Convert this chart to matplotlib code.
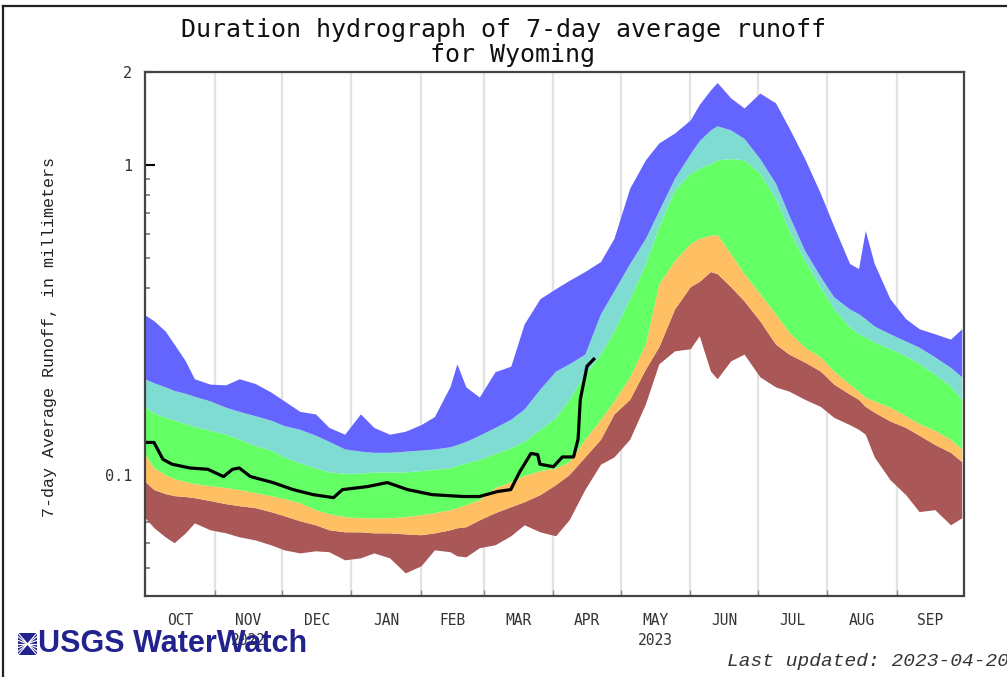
import numpy as np
import matplotlib
matplotlib.use("Agg")
import matplotlib.pyplot as plt
from matplotlib.lines import Line2D
from matplotlib.ticker import NullFormatter

# ---- data (days since 2022-10-01, 7-day average runoff in mm) ----
band_day = [0, 4, 9, 13, 18, 22, 29, 36, 42, 49, 56, 62, 69, 76, 82, 89, 96, 102, 109, 116,
            123, 129, 136, 139, 143, 149, 156, 163, 169, 176, 183, 189, 196, 203, 209, 216,
            223, 229, 236, 243, 247, 252, 255, 261, 267, 274, 281, 287, 294, 301, 307, 314,
            318, 321, 325, 332, 339, 345, 352, 359, 364]

q_max = [0.328, 0.314, 0.291, 0.264, 0.233, 0.204, 0.196, 0.195, 0.204, 0.197, 0.185, 0.173,
         0.160, 0.157, 0.142, 0.135, 0.157, 0.142, 0.135, 0.138, 0.145, 0.154, 0.193, 0.228,
         0.192, 0.178, 0.215, 0.224, 0.307, 0.370, 0.399, 0.424, 0.453, 0.488, 0.580, 0.842,
         1.04, 1.18, 1.27, 1.40, 1.57, 1.75, 1.85, 1.65, 1.53, 1.71, 1.59, 1.32, 1.05, 0.811,
         0.634, 0.481, 0.463, 0.615, 0.481, 0.370, 0.319, 0.296, 0.285, 0.274, 0.296]

q_p90 = [0.204, 0.198, 0.192, 0.187, 0.183, 0.179, 0.173, 0.165, 0.160, 0.155, 0.150, 0.144,
         0.140, 0.134, 0.128, 0.121, 0.119, 0.118, 0.118, 0.119, 0.120, 0.121, 0.123, 0.125,
         0.128, 0.134, 0.142, 0.151, 0.163, 0.189, 0.216, 0.228, 0.245, 0.331, 0.393, 0.481,
         0.580, 0.714, 0.908, 1.09, 1.20, 1.30, 1.34, 1.30, 1.22, 1.05, 0.874, 0.688, 0.530,
         0.436, 0.375, 0.343, 0.331, 0.319, 0.302, 0.285, 0.270, 0.258, 0.240, 0.222, 0.207]

q_p75 = [0.166, 0.158, 0.153, 0.150, 0.146, 0.143, 0.139, 0.135, 0.130, 0.124, 0.120, 0.114,
         0.109, 0.105, 0.102, 0.101, 0.101, 0.102, 0.102, 0.102, 0.103, 0.104, 0.105, 0.107,
         0.109, 0.112, 0.117, 0.122, 0.128, 0.140, 0.153, 0.175, 0.211, 0.245, 0.291, 0.370,
         0.481, 0.634, 0.830, 0.942, 0.978, 1.01, 1.04, 1.05, 1.04, 0.942, 0.782, 0.615, 0.492,
         0.404, 0.343, 0.300, 0.285, 0.278, 0.268, 0.255, 0.242, 0.228, 0.211, 0.193, 0.175]

q_p25 = [0.116, 0.105, 0.100, 0.097, 0.095, 0.0935, 0.0921, 0.0908, 0.0894, 0.0874, 0.0855,
         0.0836, 0.0811, 0.0770, 0.0747, 0.0731, 0.0725, 0.0725, 0.0725, 0.0731, 0.0742, 0.0753,
         0.0770, 0.0782, 0.0799, 0.0830, 0.0908, 0.0949, 0.0993, 0.103, 0.105, 0.110, 0.130,
         0.151, 0.173, 0.207, 0.264, 0.414, 0.492, 0.558, 0.580, 0.593, 0.597, 0.518, 0.446,
         0.384, 0.331, 0.289, 0.258, 0.240, 0.216, 0.196, 0.186, 0.178, 0.173, 0.165, 0.155,
         0.146, 0.139, 0.130, 0.121]

q_p10 = [0.095, 0.0894, 0.0868, 0.0855, 0.0849, 0.0842, 0.0824, 0.0805, 0.0793, 0.0782, 0.0759,
         0.0736, 0.0709, 0.0688, 0.0663, 0.0653, 0.0653, 0.0648, 0.0648, 0.0643, 0.0639, 0.0648,
         0.0663, 0.0673, 0.0678, 0.0714, 0.0753, 0.0787, 0.0817, 0.0861, 0.0928, 0.100, 0.114,
         0.130, 0.157, 0.175, 0.219, 0.259, 0.343, 0.405, 0.421, 0.453, 0.446, 0.405, 0.364,
         0.314, 0.264, 0.245, 0.231, 0.216, 0.196, 0.182, 0.175, 0.166, 0.159, 0.149, 0.142,
         0.134, 0.125, 0.118, 0.110]

q_min = [0.0725, 0.0673, 0.0629, 0.0602, 0.0648, 0.0698, 0.0663, 0.0648, 0.0629, 0.0615, 0.0593,
         0.0571, 0.0558, 0.0567, 0.0563, 0.0530, 0.0538, 0.0558, 0.0538, 0.0481, 0.0507, 0.0571,
         0.0563, 0.0546, 0.0542, 0.0580, 0.0593, 0.0634, 0.0688, 0.0653, 0.0634, 0.0714, 0.0894,
         0.108, 0.114, 0.130, 0.169, 0.228, 0.251, 0.255, 0.281, 0.216, 0.204, 0.233, 0.245,
         0.207, 0.192, 0.186, 0.175, 0.166, 0.153, 0.145, 0.140, 0.135, 0.114, 0.0963, 0.0861,
         0.0759, 0.0770, 0.0688, 0.0725]

cur_day = [0, 4, 8, 12, 20, 28, 35, 39, 42, 47, 57, 66, 75, 84, 88, 99, 108, 117, 128, 142,
           149, 157, 163, 167, 172, 175, 176, 182, 186, 191, 193, 194, 197, 200]
cur_val = [0.127, 0.127, 0.112, 0.108, 0.105, 0.104, 0.0985, 0.104, 0.105, 0.0985, 0.0942,
           0.0894, 0.0861, 0.0842, 0.0894, 0.0914, 0.0942, 0.0894, 0.0861, 0.0849, 0.0849,
           0.0881, 0.0894, 0.102, 0.117, 0.116, 0.108, 0.106, 0.114, 0.114, 0.130, 0.175,
           0.224, 0.236]

month_labels = ["OCT", "NOV\n2022", "DEC", "JAN", "FEB", "MAR", "APR", "MAY\n2023",
                "JUN", "JUL", "AUG", "SEP"]
y_major = [0.1, 1, 2]
y_major_labels = ["0.1", "1", "2"]
y_minor = [0.05, 0.06, 0.07, 0.08, 0.09, 0.2, 0.3, 0.4, 0.5, 0.6, 0.7, 0.8, 0.9]

# ---- styling ----
C_BLUE = "#6464ff"
C_CYAN = "#7edcd2"
C_GREEN = "#64ff64"
C_ORANGE = "#ffc064"
C_BROWN = "#a95757"

W, H = 1007, 677
fig = plt.figure(figsize=(W / 100, H / 100), dpi=100)
ax = fig.add_axes([145 / W, 1 - 596 / H, (964 - 145) / W, (596 - 72) / H])

d = np.array(band_day)
ax.fill_between(d, q_min, q_p10, color=C_BROWN, lw=0, zorder=2)
ax.fill_between(d, q_p10, q_p25, color=C_ORANGE, lw=0, zorder=2)
ax.fill_between(d, q_p25, q_p75, color=C_GREEN, lw=0, zorder=2)
ax.fill_between(d, q_p75, q_p90, color=C_CYAN, lw=0, zorder=2)
ax.fill_between(d, q_p90, q_max, color=C_BLUE, lw=0, zorder=2)
ax.plot(cur_day, cur_val, color="black", lw=2.3, zorder=3)

ax.set_yscale("log")
ax.set_ylim(0.0405, 2.0)
ax.set_xlim(0, 365)

months = np.arange("2022-10", "2023-11", dtype="datetime64[M]").astype("datetime64[D]")
bounds = (months - np.datetime64("2022-10-01")).astype(int)
mids = (bounds[:-1] + bounds[1:]) / 2.0

ax.set_xticks(bounds[1:-1])
ax.set_xticklabels([])
ax.set_xticks(mids, month_labels, minor=True)
for lbl in ax.get_xminorticklabels():
    lbl.set_linespacing(1.45)
    lbl.set_family("DejaVu Sans Mono")
ax.tick_params(axis="x", which="major", direction="in", length=4, width=1, color="#888888")
ax.tick_params(axis="x", which="minor", length=0, pad=12, labelsize=10.5, labelcolor="#333333")

ax.set_yticks(y_major, y_major_labels)
ax.set_yticks(y_minor, minor=True)
ax.yaxis.set_minor_formatter(NullFormatter())
ax.tick_params(axis="y", which="major", direction="in", length=7, width=1.5, color="black",
               labelsize=11, labelcolor="#333333", pad=9)
ax.tick_params(axis="y", which="minor", direction="in", length=3.5, width=1.2, color="#777777")
for lbl in ax.get_yticklabels():
    lbl.set_family("DejaVu Sans Mono")

ax.grid(axis="x", which="major", color="#e3e3e3", lw=1.6, zorder=0)
ax.set_axisbelow(True)
for s in ax.spines.values():
    s.set_color("#444444")
    s.set_linewidth(1.6)
    s.set_zorder(5)

# ---- text ----
fig.text(0.5, 1 - 30 / H, "Duration hydrograph of 7-day average runoff", ha="center",
         va="center", fontsize=18, family="DejaVu Sans Mono", color="#111111")
fig.text(512 / W, 1 - 55 / H, "for Wyoming", ha="center", va="center", fontsize=18,
         family="DejaVu Sans Mono", color="#111111")
fig.text(50 / W, 1 - 337 / H, "7-day Average Runoff, in millimeters", rotation=90,
         ha="center", va="center", fontsize=12, family="Liberation Mono", color="#222222")
fig.text(727 / W, 1 - 661 / H, "Last updated: 2023-04-20", ha="left", va="center",
         fontsize=14, family="Liberation Mono", style="italic", color="#333333")

# logo
fig.text(38 / W, 1 - 644 / H, "USGS WaterWatch", ha="left", va="center", fontsize=22,
         family="Liberation Sans", weight="bold", color="#23238e", zorder=1)
iax = fig.add_axes([18 / W, 1 - 655 / H, 19 / W, 22 / H])
iax.set_xlim(0, 1)
iax.set_ylim(0, 1)
iax.axis("off")
iax.add_patch(plt.Rectangle((0, 0), 1, 1, color="#23238e"))
for i in range(7):
    y0 = i / 6
    iax.plot([0, 1], [y0, 1 - y0], color="white", lw=0.8)

# figure frame
fig.add_artist(Line2D([3 / W, 3 / W], [0, 1 - 6 / H], transform=fig.transFigure,
                      color="#222222", lw=1.6))
fig.add_artist(Line2D([3 / W, 1], [1 - 6 / H, 1 - 6 / H], transform=fig.transFigure,
                      color="#222222", lw=1.6))

fig.savefig("out.png", dpi=100)
